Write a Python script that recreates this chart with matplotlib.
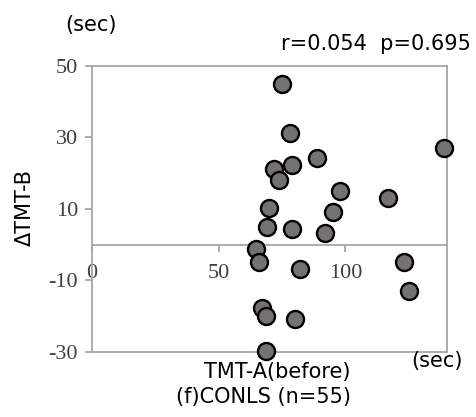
import numpy as np
import matplotlib
matplotlib.use("Agg")
import matplotlib.pyplot as plt

# TMT-A (before) vs change in TMT-B, seconds
tmt_a = [74.9, 78.0, 71.8, 78.9, 88.9, 73.8, 97.9, 69.7, 95.0, 68.9, 78.9, 91.9,
         64.9, 65.9, 82.0, 66.9, 68.8, 80.0, 68.8, 138.9, 117.0, 123.0, 125.0]
d_tmt_b = [45.0, 31.2, 21.2, 22.2, 24.2, 18.1, 15.1, 10.2, 9.1, 5.0, 4.3, 3.2,
           -1.3, -4.9, -6.9, -17.8, -20.0, -20.8, -29.9, 27.0, 13.0, -4.8, -12.9]
x_ticks = [0, 50, 100]
y_ticks = [-30, -10, 10, 30, 50]

plt.rcParams["axes.unicode_minus"] = False

gray = "#a6a6a6"
serif = "Liberation Serif"
sans = "DejaVu Sans"
fs = 15

fig = plt.figure(figsize=(4.76, 4.17), dpi=100)
ax = fig.add_axes([0.1933, 0.1566, 0.7452, 0.6851])

ax.scatter(tmt_a, d_tmt_b, s=150, c="#767171", edgecolors="black",
           linewidths=1.7, zorder=3, clip_on=False)

ax.set_xlim(0, 140)
ax.set_ylim(-30, 50)

for side in ["left", "top", "right", "bottom"]:
    ax.spines[side].set_color(gray)
    ax.spines[side].set_linewidth(1.3)
ax.spines["bottom"].set_position(("data", 0))
ax.axhline(-30, color=gray, lw=1.3, clip_on=False, zorder=1)

ax.set_xticks(x_ticks)
ax.set_yticks(y_ticks)
ax.tick_params(axis="both", colors=gray, direction="out", length=5, width=1.3)
ax.tick_params(axis="x", pad=9)
ax.tick_params(axis="y", pad=5)
for lbl in ax.get_xticklabels() + ax.get_yticklabels():
    lbl.set_fontfamily(serif)
    lbl.set_fontsize(16)
    lbl.set_color("#404040")

fig.text(65 / 476, 1 - 25 / 417, "(sec)", fontsize=fs, family=sans,
         ha="left", va="center")
fig.text(471 / 476, 1 - 44 / 417, "r=0.054  p=0.695", fontsize=fs,
         family=sans, ha="right", va="center")
fig.text(25 / 476, 1 - 208 / 417, "\u0394TMT-B", fontsize=fs, family=sans,
         rotation=90, ha="center", va="center")
fig.text(277 / 476, 1 - 372 / 417, "TMT-A(before)", fontsize=fs,
         family=sans, ha="center", va="center")
fig.text(263 / 476, 1 - 397 / 417, "(f)CONLS (n=55)", fontsize=fs,
         family=sans, ha="center", va="center")
fig.text(437 / 476, 1 - 361 / 417, "(sec)", fontsize=fs, family=sans,
         ha="center", va="center")

fig.savefig("out.png", dpi=100)
